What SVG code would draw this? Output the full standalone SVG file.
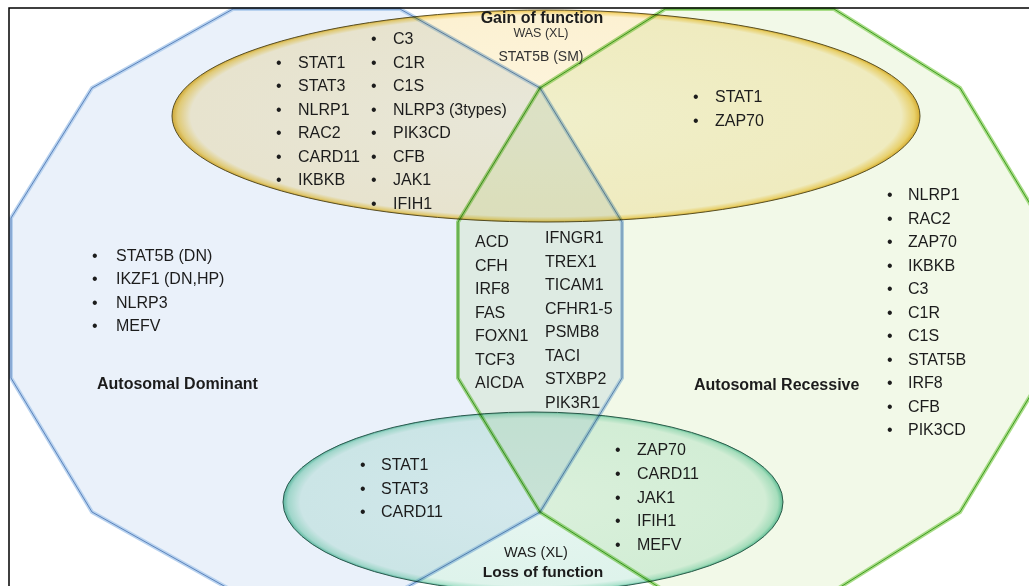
<svg xmlns="http://www.w3.org/2000/svg" width="1029" height="586" viewBox="0 0 1029 586">
  <defs>
    <radialGradient id="gY" cx="50%" cy="50%" r="50%">
      <stop offset="0" stop-color="#FDF5DE"/>
      <stop offset="0.95" stop-color="#FCF1D2"/>
      <stop offset="0.985" stop-color="#F5D678"/>
      <stop offset="1" stop-color="#E2B236"/>
    </radialGradient>
    <radialGradient id="gT" cx="50%" cy="50%" r="50%">
      <stop offset="0" stop-color="#E6F6F1"/>
      <stop offset="0.93" stop-color="#DEF3EB"/>
      <stop offset="0.98" stop-color="#AEE3CE"/>
      <stop offset="1" stop-color="#62C0A2"/>
    </radialGradient>
    <style>
      .mul { mix-blend-mode: multiply; }
      text { font-family: "Liberation Sans", Arial, sans-serif; font-size: 16px; fill: #1c1c1c; }
      .b { font-weight: bold; }
      .sm { font-size: 13px; fill: #333; }
    </style>
  </defs>

  <rect x="0" y="0" width="1029" height="586" fill="#fff"/>

  <g id="autosomal-dominant">
    <polygon class="mul" points="233,9 400,9 540,88 622,222 622,378 540,512 400,591 233,591 92,512 11,378 11,218 92,88" fill="#EAF1FA" stroke="#B8D2EF" stroke-width="4"/>
    <polygon class="mul" points="233,9 400,9 540,88 622,222 622,378 540,512 400,591 233,591 92,512 11,378 11,218 92,88" fill="none" stroke="#7E9FC8" stroke-width="1"/>
  </g>

  <g id="autosomal-recessive">
    <polygon class="mul" points="665,9 834,9 960,88 1041,222 1041,378 960,512 834,591 665,591 540,512 458,378 458,222 540,88" fill="#F2F9E8" stroke="#A9DD88" stroke-width="4"/>
    <polygon class="mul" points="665,9 834,9 960,88 1041,222 1041,378 960,512 834,591 665,591 540,512 458,378 458,222 540,88" fill="none" stroke="#5DB33A" stroke-width="1"/>
  </g>

  <g id="gain-of-function">
    <ellipse class="mul" cx="546" cy="116" rx="374" ry="106" fill="url(#gY)" stroke="#5E5226" stroke-width="1"/>
  </g>

  <g id="loss-of-function">
    <ellipse class="mul" cx="533" cy="502" rx="250" ry="90" fill="url(#gT)" stroke="#2E5E50" stroke-width="1"/>
  </g>

  <g id="connectors"/>

  <g id="labels-gain">
    <text class="b" x="542" y="23" text-anchor="middle">Gain of function</text>
    <text class="sm" x="541" y="37" text-anchor="middle" style="font-size:12.5px">WAS (XL)</text>
    <text class="sm" x="541" y="61" text-anchor="middle" style="font-size:14px">STAT5B (SM)</text>

    <text x="276" y="67.5">•</text><text x="298" y="67.5">STAT1</text>
    <text x="276" y="91">•</text><text x="298" y="91">STAT3</text>
    <text x="276" y="114.5">•</text><text x="298" y="114.5">NLRP1</text>
    <text x="276" y="138">•</text><text x="298" y="138">RAC2</text>
    <text x="276" y="161.5">•</text><text x="298" y="161.5">CARD11</text>
    <text x="276" y="185">•</text><text x="298" y="185">IKBKB</text>

    <text x="371" y="44">•</text><text x="393" y="44">C3</text>
    <text x="371" y="67.5">•</text><text x="393" y="67.5">C1R</text>
    <text x="371" y="91">•</text><text x="393" y="91">C1S</text>
    <text x="371" y="114.5">•</text><text x="393" y="114.5">NLRP3 (3types)</text>
    <text x="371" y="138">•</text><text x="393" y="138">PIK3CD</text>
    <text x="371" y="161.5">•</text><text x="393" y="161.5">CFB</text>
    <text x="371" y="185">•</text><text x="393" y="185">JAK1</text>
    <text x="371" y="208.5">•</text><text x="393" y="208.5">IFIH1</text>

    <text x="693" y="102">•</text><text x="715" y="102">STAT1</text>
    <text x="693" y="126">•</text><text x="715" y="126">ZAP70</text>
  </g>

  <g id="labels-dominant">
    <text x="92" y="260.5">•</text><text x="116" y="260.5">STAT5B (DN)</text>
    <text x="92" y="284">•</text><text x="116" y="284">IKZF1 (DN,HP)</text>
    <text x="92" y="307.5">•</text><text x="116" y="307.5">NLRP3</text>
    <text x="92" y="331">•</text><text x="116" y="331">MEFV</text>
    <text class="b" x="97" y="389">Autosomal Dominant</text>
  </g>

  <g id="labels-shared">
    <text x="475" y="247">ACD</text>
    <text x="475" y="270.5">CFH</text>
    <text x="475" y="294">IRF8</text>
    <text x="475" y="317.5">FAS</text>
    <text x="475" y="341">FOXN1</text>
    <text x="475" y="364.5">TCF3</text>
    <text x="475" y="388">AICDA</text>

    <text x="545" y="243">IFNGR1</text>
    <text x="545" y="266.5">TREX1</text>
    <text x="545" y="290">TICAM1</text>
    <text x="545" y="313.5">CFHR1-5</text>
    <text x="545" y="337">PSMB8</text>
    <text x="545" y="360.5">TACI</text>
    <text x="545" y="384">STXBP2</text>
    <text x="545" y="407.5">PIK3R1</text>
  </g>

  <g id="labels-recessive">
    <text x="887" y="200">•</text><text x="908" y="200">NLRP1</text>
    <text x="887" y="223.5">•</text><text x="908" y="223.5">RAC2</text>
    <text x="887" y="247">•</text><text x="908" y="247">ZAP70</text>
    <text x="887" y="270.5">•</text><text x="908" y="270.5">IKBKB</text>
    <text x="887" y="294">•</text><text x="908" y="294">C3</text>
    <text x="887" y="317.5">•</text><text x="908" y="317.5">C1R</text>
    <text x="887" y="341">•</text><text x="908" y="341">C1S</text>
    <text x="887" y="364.5">•</text><text x="908" y="364.5">STAT5B</text>
    <text x="887" y="388">•</text><text x="908" y="388">IRF8</text>
    <text x="887" y="411.5">•</text><text x="908" y="411.5">CFB</text>
    <text x="887" y="435">•</text><text x="908" y="435">PIK3CD</text>
    <text class="b" x="694" y="390">Autosomal Recessive</text>
  </g>

  <g id="labels-loss">
    <text x="360" y="470">•</text><text x="381" y="470">STAT1</text>
    <text x="360" y="493.5">•</text><text x="381" y="493.5">STAT3</text>
    <text x="360" y="517">•</text><text x="381" y="517">CARD11</text>

    <text x="615" y="455">•</text><text x="637" y="455">ZAP70</text>
    <text x="615" y="479">•</text><text x="637" y="479">CARD11</text>
    <text x="615" y="502.5">•</text><text x="637" y="502.5">JAK1</text>
    <text x="615" y="526">•</text><text x="637" y="526">IFIH1</text>
    <text x="615" y="549.5">•</text><text x="637" y="549.5">MEFV</text>

    <text x="536" y="557" text-anchor="middle" style="font-size:14.5px">WAS (XL)</text>
    <text class="b" x="543" y="577" text-anchor="middle" style="font-size:15.5px">Loss of function</text>
  </g>

  <rect x="9" y="8" width="1030" height="600" fill="none" stroke="#000" stroke-width="1.5"/>
</svg>
